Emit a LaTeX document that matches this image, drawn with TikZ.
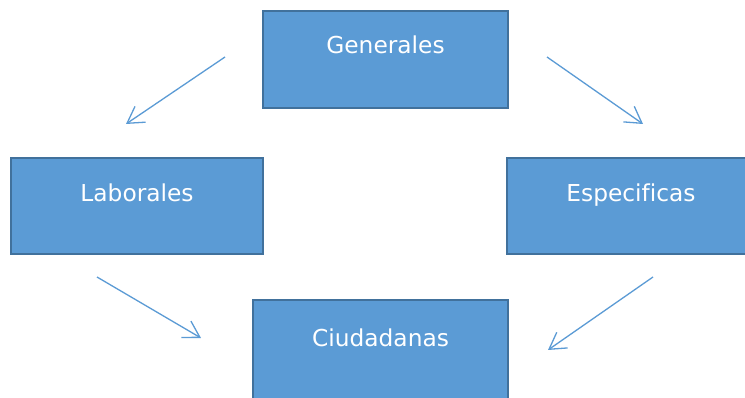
\documentclass[tikz,border=0pt]{standalone}
\usepackage{fontspec}
\setmainfont[Ligatures=CommonOff]{DejaVu Sans}
\usetikzlibrary{arrows.meta}
\definecolor{boxfill}{HTML}{5B9BD5}
\definecolor{boxline}{HTML}{41719C}
\definecolor{arrowcol}{HTML}{5B9BD5}
\begin{document}
\begin{tikzpicture}[x=1pt,y=-1pt,
  box/.style={draw=boxline, fill=boxfill, line width=2.8pt},
  lbl/.style={text=white, anchor=base, inner sep=0pt, font=\fontsize{23.3}{27}\selectfont},
  conn/.style={draw=arrowcol, line width=1.3pt, -{Straight Barb[length=16pt,width=19pt,line width=1.3pt]}}]
\useasboundingbox (0,0) rectangle (745,398);
\clip (0,0) rectangle (745,398);
\fill[white] (0,0) rectangle (745,398);
% boxes
\draw[box] (263,11) rectangle (508,108);
\draw[box] (11,158) rectangle (263,254);
\draw[box] (507,158) rectangle (755,254);
\draw[box] (253,300) rectangle (508,410);
% labels
\node[lbl] (gen) at (385.5,54) {Generales};
\node[lbl] (lab) at (137,202) {Laborales};
\node[lbl] (esp) at (631,202) {Especificas};
\node[lbl] (ciu) at (380.5,347) {Ciudadanas};
% arrow endpoints
\coordinate (a1s) at (225,57);
\coordinate (a1e) at (126,124);
\coordinate (a2s) at (547,57);
\coordinate (a2e) at (643,124);
\coordinate (a3s) at (97,277);
\coordinate (a3e) at (201,338);
\coordinate (a4s) at (653,277);
\coordinate (a4e) at (548,350);
\draw[conn] (a1s) -- (a1e);
\draw[conn] (a2s) -- (a2e);
\draw[conn] (a3s) -- (a3e);
\draw[conn] (a4s) -- (a4e);
\end{tikzpicture}
\end{document}
